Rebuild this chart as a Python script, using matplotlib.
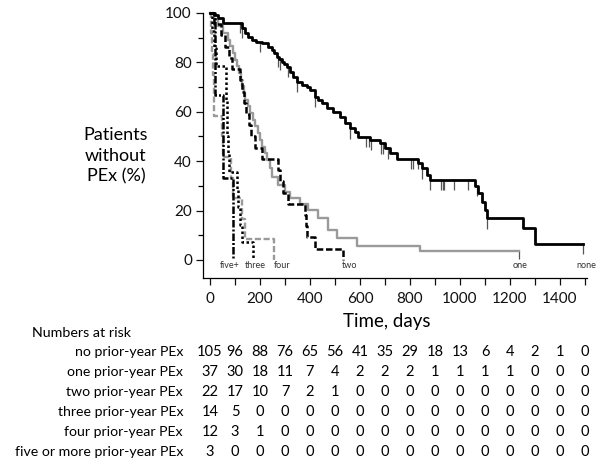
import matplotlib
matplotlib.use("Agg")
import matplotlib.pyplot as plt
from matplotlib.ticker import MultipleLocator, FixedLocator
import matplotlib.transforms as mtransforms

plt.rcParams['font.family'] = ['Lato', 'DejaVu Sans']

# ---------------- data ----------------
none_t = [0, 15, 30, 53, 128, 140, 153, 167, 185, 207, 233, 247, 257, 267, 277, 287, 297, 307,
          320, 333, 347, 367, 387, 400, 420, 433, 447, 467, 493, 520, 540, 560, 580, 593, 640,
          680, 700, 720, 747, 833, 847, 867, 880, 1060, 1073, 1087, 1100, 1107, 1253, 1300]
none_s = [100, 99, 98, 96, 94, 92, 90.4, 89.1, 88.4, 87.7, 86.4, 85.0, 83.7, 82.3, 81.3, 80.3, 79.3, 78.3,
          76.2, 74.2, 72.2, 70.9, 69.9, 68.8, 66.1, 64.7, 63.4, 61.4, 60.0, 58.0, 55.3, 53.3, 51.9, 49.9, 48.6,
          47.2, 45.2, 43.2, 41.0, 39.1, 37.1, 34.4, 32.4, 30.0, 27.0, 23.6, 20.2, 16.9, 12.8, 6.5]
none_end = 1493
none_cens = [118, 128, 200, 270, 280, 313, 347, 420, 560, 625, 635, 645, 683, 690, 713,
             803, 810, 830, 847, 880, 923, 930, 937, 976, 1033, 1067, 1107, 1493]

one_t = [0, 15, 30, 50, 70, 80, 90, 100, 108, 115, 122, 128, 135, 140, 150, 160, 170, 180, 193, 200,
         207, 220, 227, 240, 247, 273, 300, 320, 360, 393, 433, 473, 507, 587, 840]
one_s = [100, 97.3, 94.6, 91.9, 89.2, 86.5, 83.8, 81.1, 78.4, 75.7, 73.0, 70.3, 67.6, 64.9, 62.2, 59.5,
         56.8, 54.1, 51.4, 48.6, 45.9, 43.2, 40.5, 37.1, 33.7, 30.4, 27.7, 25.0, 22.8, 20.2, 16.9, 12.1,
         8.8, 5.7, 3.8]
one_end = 1237
one_cens = [1237]

two_t = [0, 15, 45, 60, 75, 87, 120, 127, 135, 145, 155, 165, 180, 207, 273, 280, 293, 313, 380, 383,
         387, 420, 533]
two_s = [100, 95.5, 90.9, 86.4, 81.8, 77.3, 72.7, 68.2, 63.6, 59.1, 54.5, 50.0, 45.5, 40.9, 36.4, 31.8,
         27.3, 22.7, 18.2, 13.6, 9.1, 4.5, 0]

three_t = [0, 8, 15, 22, 62, 64, 66, 68, 70, 75, 107, 113, 120, 128, 172]
three_s = [100, 92.9, 85.7, 78.6, 71.4, 64.3, 57.1, 50.0, 42.9, 35.7, 28.6, 21.4, 14.3, 7.1, 0]

four_t = [0, 5, 8, 11, 14, 17, 48, 52, 85, 92, 127, 140, 257]
four_s = [100, 91.7, 83.3, 75.0, 66.7, 58.3, 50.0, 41.7, 33.3, 25.0, 16.7, 8.3, 0]

five_t = [0, 20, 53, 93]
five_s = [100, 66.7, 33.3, 0]

curve_labels = ["five+", "three", "four", "two", "one", "none"]
curve_label_x = [80, 183, 287, 557, 1240, 1505]

risk_times = [0, 100, 200, 300, 400, 500, 600, 700, 800, 900, 1000, 1100, 1200, 1300, 1400, 1500]
risk_groups = ["no prior-year PEx", "one prior-year PEx", "two prior-year PEx",
               "three prior-year PEx", "four prior-year PEx", "five or more prior-year PEx"]
risk_none = [105, 96, 88, 76, 65, 56, 41, 35, 29, 18, 13, 6, 4, 2, 1, 0]
risk_one = [37, 30, 18, 11, 7, 4, 2, 2, 2, 1, 1, 1, 1, 0, 0, 0]
risk_two = [22, 17, 10, 7, 2, 1, 0, 0, 0, 0, 0, 0, 0, 0, 0, 0]
risk_three = [14, 5, 0, 0, 0, 0, 0, 0, 0, 0, 0, 0, 0, 0, 0, 0]
risk_four = [12, 3, 1, 0, 0, 0, 0, 0, 0, 0, 0, 0, 0, 0, 0, 0]
risk_five = [3, 0, 0, 0, 0, 0, 0, 0, 0, 0, 0, 0, 0, 0, 0, 0]

# ---------------- figure ----------------
W, H = 600, 467
fig = plt.figure(figsize=(W / 100, H / 100), dpi=100)
ax = fig.add_axes([203 / W, 1 - 278 / H, (587 - 203) / W, (278 - 13) / H])
ax.set_xlim(-28, 1508)
ax.set_ylim(-7.3, 100)

def step(t, s, end=None, **kw):
    tt = list(t)
    ss = list(s)
    if end is not None:
        tt.append(end)
        ss.append(ss[-1])
    ax.step(tt, ss, where='post', clip_on=False, **kw)

def value_at(t, s, x):
    v = s[0]
    for ti, si in zip(t, s):
        if ti <= x:
            v = si
    return v

gray = '#9a9a9a'
# one (gray solid)
step(one_t, one_s, one_end, color=gray, lw=1.7, zorder=3)
# four (gray dashed)
step(four_t, four_s, None, color=gray, lw=1.7, dashes=(2.6, 1.1), zorder=3)
# two (black dashed)
step(two_t, two_s, None, color='black', lw=1.8, dashes=(2.6, 1.1), zorder=4)
# three (black dotted)
step(three_t, three_s, None, color='black', lw=1.8, dashes=(1.0, 1.0), zorder=4)
# five+ (black dash-dot)
step(five_t, five_s, None, color='black', lw=1.8, dashes=(3.0, 0.8, 0.8, 0.8), zorder=4)
# none (black solid)
step(none_t, none_s, none_end, color='black', lw=2.0, zorder=5)

# censor marks
for c in none_cens:
    v = value_at(none_t, none_s, c)
    ax.vlines(c, v - 4.2, v, color='#555555', lw=0.9, zorder=2, clip_on=False)
for c in one_cens:
    v = value_at(one_t, one_s, c)
    ax.vlines(c, v - 3.6, v, color='#555555', lw=0.9, zorder=2, clip_on=False)

for lab, x in zip(curve_labels, curve_label_x):
    ax.text(x, -2.2, lab, ha='center', va='center', fontsize=6.5, color='#333333')

# axes styling
for sp in ['top', 'right']:
    ax.spines[sp].set_visible(False)
for sp in ['left', 'bottom']:
    ax.spines[sp].set_linewidth(0.9)
ax.spines['left'].set_bounds(-7.3, 100)
ax.xaxis.set_major_locator(FixedLocator(risk_times))
ax.set_xticklabels([str(t) if t % 200 == 0 and t < 1500 else '' for t in risk_times])
ax.yaxis.set_major_locator(MultipleLocator(20))
ax.yaxis.set_minor_locator(MultipleLocator(10))
ax.tick_params(axis='both', which='major', direction='out', length=5, width=0.9,
               labelsize=11, colors='#111111', pad=3)
ax.tick_params(axis='x', which='major', pad=5)
ax.tick_params(axis='y', which='minor', direction='out', length=3.5, width=0.9)

fig.text(387 / W, 1 - 322 / H, "Time, days", ha='center', va='center', fontsize=13.5)
fig.text(116 / W, 1 - 156 / H, "Patients\nwithout\nPEx (%)", ha='center', va='center',
         fontsize=13, linespacing=1.35)

# numbers at risk table
fig.text(32 / W, 1 - 333 / H, "Numbers at risk", ha='left', va='center', fontsize=10.3)
trans = mtransforms.blended_transform_factory(ax.transData, fig.transFigure)
rows = [risk_none, risk_one, risk_two, risk_three, risk_four, risk_five]
row_y = [352, 372, 392, 412, 432, 452]
for name, vals, y in zip(risk_groups, rows, row_y):
    fig.text(183 / W, 1 - y / H, name, ha='right', va='center', fontsize=10.2)
    for t, v in zip(risk_times, vals):
        ax.text(t, 1 - y / H, str(v), transform=trans, ha='center', va='center',
                fontsize=10.5, clip_on=False)

fig.savefig("out.png", dpi=100)
